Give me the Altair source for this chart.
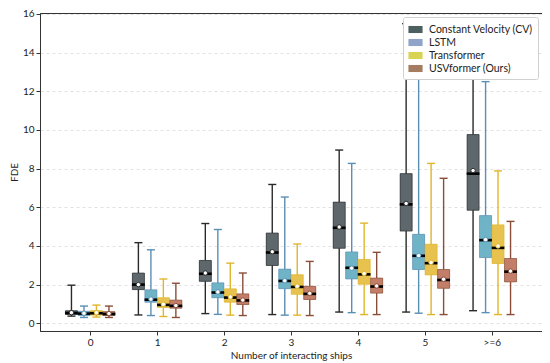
import altair as alt
import pandas as pd

categories = ["0", "1", "2", "3", "4", "5", ">=6"]
series = ["Constant Velocity (CV)", "LSTM", "Transformer", "USVformer (Ours)"]

# per series, per category: lower whisker, q1, median, q3, upper whisker, mean
cv_low = [0.37, 0.43, 0.50, 0.45, 0.58, 0.58, 0.65]
cv_q1 = [0.46, 1.74, 2.17, 2.99, 3.88, 4.77, 5.85]
cv_med = [0.53, 2.00, 2.56, 3.66, 4.94, 6.15, 7.74]
cv_q3 = [0.65, 2.60, 3.25, 4.67, 6.27, 7.74, 9.76]
cv_high = [1.97, 4.17, 5.16, 7.18, 8.96, 15.5, 15.2]
cv_mean = [0.55, 2.00, 2.60, 3.70, 4.98, 6.20, 7.90]

lstm_low = [0.30, 0.40, 0.46, 0.42, 0.55, 0.52, 0.55]
lstm_q1 = [0.40, 1.09, 1.32, 1.79, 2.29, 2.78, 3.40]
lstm_med = [0.50, 1.22, 1.59, 2.19, 2.87, 3.49, 4.30]
lstm_q3 = [0.62, 1.73, 2.09, 2.80, 3.69, 4.60, 5.57]
lstm_high = [0.89, 3.80, 4.85, 6.53, 8.27, 14.5, 12.5]
lstm_mean = [0.52, 1.25, 1.62, 2.20, 2.85, 3.50, 4.33]

tr_low = [0.32, 0.35, 0.42, 0.42, 0.45, 0.45, 0.45]
tr_q1 = [0.42, 0.82, 1.09, 1.50, 2.02, 2.50, 3.09]
tr_med = [0.52, 0.95, 1.33, 1.88, 2.53, 3.11, 3.90]
tr_q3 = [0.65, 1.32, 1.78, 2.51, 3.30, 4.09, 5.09]
tr_high = [0.94, 2.29, 3.11, 4.10, 5.18, 8.27, 7.88]
tr_mean = [0.55, 0.98, 1.36, 1.92, 2.58, 3.15, 4.00]

usv_low = [0.30, 0.30, 0.40, 0.40, 0.45, 0.45, 0.45]
usv_q1 = [0.40, 0.78, 0.97, 1.23, 1.56, 1.81, 2.14]
usv_med = [0.48, 0.90, 1.18, 1.52, 1.90, 2.24, 2.67]
usv_q3 = [0.60, 1.20, 1.52, 1.91, 2.34, 2.78, 3.35]
usv_high = [0.89, 2.07, 2.60, 3.20, 3.67, 7.50, 5.27]
usv_mean = [0.50, 0.92, 1.20, 1.55, 1.93, 2.28, 2.70]

y_ticks = [0, 2, 4, 6, 8, 10, 12, 14, 16]

box_colors = ["#5d676c", "#6fb4c6", "#e8c24f", "#c27e68"]
whisker_colors = ["#2a2a2a", "#5a8fb5", "#e0b52c", "#8a4d38"]
legend_colors = ["#4d6060", "#8fa4c8", "#d8d352", "#a57c60"]
offsets = [-0.28, -0.093, 0.093, 0.28]

stats = [
    (cv_low, cv_q1, cv_med, cv_q3, cv_high, cv_mean),
    (lstm_low, lstm_q1, lstm_med, lstm_q3, lstm_high, lstm_mean),
    (tr_low, tr_q1, tr_med, tr_q3, tr_high, tr_mean),
    (usv_low, usv_q1, usv_med, usv_q3, usv_high, usv_mean),
]

rows = []
for j, s in enumerate(series):
    lo, q1, md, q3, hi, mn = stats[j]
    for i, c in enumerate(categories):
        xc = i + offsets[j]
        rows.append(dict(series=s, cat=c, xc=xc,
                         xb0=xc - 0.09, xb1=xc + 0.09,
                         xm0=xc - 0.095, xm1=xc + 0.095,
                         xk0=xc - 0.06, xk1=xc + 0.06,
                         low=lo[i], q1=q1[i], med=md[i], q3=q3[i], high=hi[i], mean=mn[i],
                         bcol=box_colors[j], wcol=whisker_colors[j]))
df = pd.DataFrame(rows)

FONT = "Lato"

xscale = alt.Scale(domain=[-0.75, 6.75], nice=False, zero=False)
yscale = alt.Scale(domain=[-0.4, 16.05], nice=False, zero=False)

label_expr = "datum.value == 6 ? '>=6' : format(datum.value, 'd')"

base = alt.Chart(df)

xax = alt.X("xc:Q", scale=xscale,
            axis=alt.Axis(title="Number of interacting ships", values=list(range(7)),
                          tickCount=20, labelExpr=label_expr, grid=False,
                          labelOverlap=False))
yax = alt.Y("low:Q", scale=yscale,
            axis=alt.Axis(title="FDE", values=y_ticks, tickCount=20, grid=True,
                          labelOverlap=False, labelFlush=False))

whisk = base.mark_rule(strokeWidth=1.4).encode(
    x=xax, y=yax, y2="high:Q",
    color=alt.Color("wcol:N", scale=None))

cap_lo = base.mark_rule(strokeWidth=1.4).encode(
    x=alt.X("xk0:Q", scale=xscale), x2="xk1:Q",
    y=alt.Y("low:Q", scale=yscale),
    color=alt.Color("wcol:N", scale=None))
cap_hi = base.mark_rule(strokeWidth=1.4).encode(
    x=alt.X("xk0:Q", scale=xscale), x2="xk1:Q",
    y=alt.Y("high:Q", scale=yscale),
    color=alt.Color("wcol:N", scale=None))

box_legend = base.mark_rect().encode(
    x=alt.X("xb0:Q", scale=xscale), x2="xb1:Q",
    y=alt.Y("q1:Q", scale=yscale), y2="q3:Q",
    fill=alt.Fill("series:N", sort=series,
                  scale=alt.Scale(domain=series, range=legend_colors),
                  legend=alt.Legend(title=None, orient="top-right", offset=4,
                                    symbolType="M-1,-0.5H1V0.5H-1Z", symbolSize=200,
                                    symbolStrokeWidth=0, labelFontSize=10.5,
                                    labelFont=FONT, labelColor="#222",
                                    rowPadding=0, padding=5, labelOffset=6,
                                    fillColor="white", strokeColor="#d0d0d0",
                                    cornerRadius=2)))

box = base.mark_rect(strokeWidth=0.6).encode(
    x=alt.X("xb0:Q", scale=xscale), x2="xb1:Q",
    y=alt.Y("q1:Q", scale=yscale), y2="q3:Q",
    fill=alt.Fill("bcol:N", scale=None),
    stroke=alt.Stroke("wcol:N", scale=None))

median = base.mark_rule(strokeWidth=2.6, color="black").encode(
    x=alt.X("xm0:Q", scale=xscale), x2="xm1:Q",
    y=alt.Y("med:Q", scale=yscale))

mean = base.mark_point(shape="circle", filled=True, fill="white", size=20,
                       strokeWidth=1, opacity=1).encode(
    x=alt.X("xc:Q", scale=xscale),
    y=alt.Y("mean:Q", scale=yscale),
    stroke=alt.Stroke("wcol:N", scale=None))

chart = alt.layer(whisk, cap_lo, cap_hi, box_legend, box, median, mean).properties(
    width=502, height=318,
    autosize=alt.AutoSizeParams(type="none"),
    padding={"left": 32, "top": 5, "right": 0, "bottom": 30},
).configure_view(
    stroke="#333", strokeWidth=1
).configure_axis(
    labelFont=FONT, titleFont=FONT,
    labelFontSize=10, titleFontSize=10, titleFontWeight="normal",
    labelColor="#222", titleColor="#222",
    tickColor="#333", domainColor="#333", tickSize=4,
    gridColor="#d9d9d9", gridDash=[3, 3], gridWidth=0.8,
    labelPadding=2
).configure_axisY(
    titlePadding=3
).configure_axisX(
    titlePadding=3
)

chart.save("out.html", embed_options={"renderer": "svg", "actions": False})
